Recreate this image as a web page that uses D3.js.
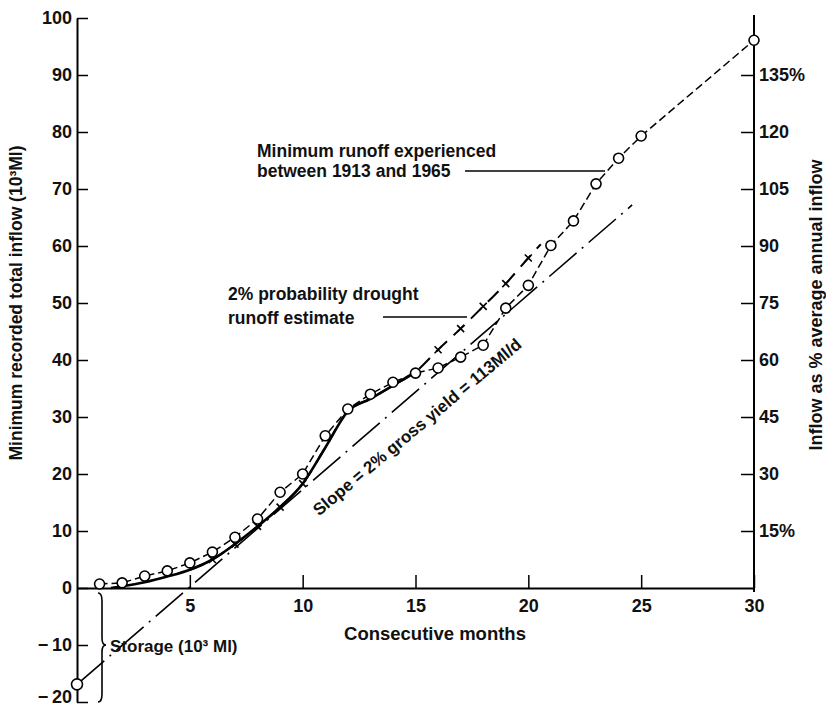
<!DOCTYPE html>
<html><head><meta charset="utf-8">
<script src="https://cdn.jsdelivr.net/npm/d3@7"></script>
<style>
body{margin:0;background:#fff}
svg{display:block}
text{font-family:"Liberation Sans",Arial,Helvetica,sans-serif;fill:#111}
</style>
</head><body>
<svg id="c" width="826" height="708"></svg>
<script>
// ---- data ----
const runoffMonths = [1,2,3,4,5,6,7,8,9,10,11,12,13,14,15,16,17,18,19,20,21,22,23,24,25,30];
const runoffValues = [0.7,0.9,2.1,3.0,4.4,6.3,8.9,12.1,16.8,20.0,26.7,31.4,34.0,36.1,37.7,38.6,40.5,42.6,49.1,53.1,60.1,64.4,70.9,75.4,79.3,96.1];

const estimateMonths = [1.5,2,3,4,5,6,7,8,9,10,11,12,13,14,15];
const estimateValues = [0,0.3,1.0,2.0,3.2,5.0,7.7,10.8,14.2,18.3,24.6,31.0,33.2,35.5,37.9];

const droughtMonths = [5,6,7,8,9,10,11,12,13,14,15,16,17,18,19,20,20.55];
const droughtValues = [3.2,5.0,7.7,10.8,14.2,18.3,24.6,31.0,33.2,35.5,37.9,41.8,45.5,49.4,53.4,57.9,60.3];
const droughtMarkerMonths = [6,7,8,9,10,16,17,18,19,20];

const slopeMonths = [0,24.6];
const slopeValues = [-16.9,67.2];

const xTicks = [5,10,15,20,25,30];
const yTicksLeft = [-20,-10,0,10,20,30,40,50,60,70,80,90,100];
const yTicksRight = [15,30,45,60,75,90,105,120,135];

// ---- drawing ----
const svg = d3.select("#c");
const x = d3.scaleLinear().domain([0,30]).range([77,754]);
const y = d3.scaleLinear().domain([-20,100]).range([702,18]);
const yR = d3.scaleLinear().domain([-30,150]).range([702,18]);

const tickFont = g => g.selectAll("text").style("font-size","18px").style("font-weight","bold");

// left axis
const gL = svg.append("g").attr("transform",`translate(${x(0)},0)`)
  .call(d3.axisLeft(y).tickValues(yTicksLeft).tickSize(-11).tickSizeOuter(0).tickPadding(5)
    .tickFormat(d => d < 0 ? "\u2212\u2009" + Math.abs(d) : d));
gL.call(tickFont);
gL.selectAll(".tick text").filter(d => d === -20).attr("dy","0.02em");
gL.select(".domain").attr("stroke-width",2);
gL.selectAll(".tick line").attr("stroke-width",1.5);

// bottom axis
const gB = svg.append("g").attr("transform",`translate(0,${y(0)})`)
  .call(d3.axisBottom(x).tickValues(xTicks).tickSize(-13).tickSizeOuter(0).tickPadding(11));
gB.call(tickFont);
gB.select(".domain").attr("stroke-width",2);
gB.selectAll(".tick line").attr("stroke-width",1.5);

// right axis
const gR = svg.append("g").attr("transform",`translate(${x(30)},0)`)
  .call(d3.axisRight(yR).tickValues(yTicksRight).tickSize(-13).tickSizeOuter(0).tickPadding(5)
    .tickFormat(d => (d === 15 || d === 135) ? d + "%" : d));
gR.call(tickFont);
gR.select(".domain").remove();
gR.selectAll(".tick line").attr("stroke-width",1.5);
svg.append("line").attr("x1",x(30)).attr("x2",x(30))
  .attr("y1",y(0)+4).attr("y2",y(100)-3).attr("stroke","#000").attr("stroke-width",2);

// axis titles
svg.append("text").attr("transform","translate(22,303) rotate(-90)")
  .attr("text-anchor","middle").style("font-size","17.5px").style("font-weight","bold")
  .text("Minimum recorded total inflow (10\u00b3Ml)");
svg.append("text").attr("transform","translate(822,305) rotate(-90)")
  .attr("text-anchor","middle").style("font-size","18px").style("font-weight","bold")
  .text("Inflow as % average annual inflow");
svg.append("text").attr("x",435).attr("y",640)
  .attr("text-anchor","middle").style("font-size","18.5px").style("font-weight","bold")
  .text("Consecutive months");

const line = d3.line().x(d => x(d[0])).y(d => y(d[1]));

// slope line (dash-dot)
svg.append("path").datum(d3.zip(slopeMonths, slopeValues)).attr("d", line)
  .attr("fill","none").attr("stroke","#000").attr("stroke-width",1.6)
  .attr("stroke-dasharray","36,7,2,7");

// thick solid estimate
svg.append("path").datum(d3.zip(estimateMonths, estimateValues))
  .attr("d", d3.line().x(d => x(d[0])).y(d => y(d[1])).curve(d3.curveMonotoneX))
  .attr("fill","none").attr("stroke","#000").attr("stroke-width",2.6);

// drought estimate dashed with x markers
svg.append("path").datum(d3.zip(droughtMonths, droughtValues))
  .attr("d", d3.line().x(d => x(d[0])).y(d => y(d[1])).curve(d3.curveMonotoneX))
  .attr("fill","none").attr("stroke","#000").attr("stroke-width",2)
  .attr("stroke-dasharray","15,9");
const mk = svg.append("g");
droughtMarkerMonths.forEach(m => {
  const v = droughtValues[droughtMonths.indexOf(m)];
  const cx = x(m), cy = y(v), s = 3.5;
  mk.append("path").attr("d",`M${cx-s},${cy-s}L${cx+s},${cy+s}M${cx-s},${cy+s}L${cx+s},${cy-s}`)
    .attr("stroke","#000").attr("stroke-width",1.6);
});

// minimum runoff dashed line with circles
const runoff = d3.zip(runoffMonths, runoffValues);
svg.append("path").datum(runoff).attr("d", line)
  .attr("fill","none").attr("stroke","#000").attr("stroke-width",1.5)
  .attr("stroke-dasharray","8,4");
svg.append("g").selectAll("circle").data(runoff).join("circle")
  .attr("cx", d => x(d[0])).attr("cy", d => y(d[1])).attr("r",5)
  .attr("fill","#fff").attr("stroke","#000").attr("stroke-width",1.6);

// storage point
svg.append("circle").attr("cx", x(slopeMonths[0])).attr("cy", y(slopeValues[0])).attr("r",5.5)
  .attr("fill","#fff").attr("stroke","#000").attr("stroke-width",1.6);

// storage brace
const bx = 98, bt = y(0)+5, bb = y(-20), bm = y(-10);
svg.append("path")
  .attr("d",`M${bx},${bt} Q${bx+4},${bt} ${bx+4},${bt+8} L${bx+4},${bm-7} Q${bx+4},${bm} ${bx+8},${bm} Q${bx+4},${bm} ${bx+4},${bm+7} L${bx+4},${bb-8} Q${bx+4},${bb} ${bx},${bb}`)
  .attr("fill","none").attr("stroke","#000").attr("stroke-width",1.6);
svg.append("text").attr("x",110).attr("y",652).style("font-size","17px").style("font-weight","bold")
  .text("Storage (10\u00b3 Ml)");

// annotations
const ann = (tx, ty, lines, lh) => {
  const t = svg.append("text").attr("x",tx).attr("y",ty).style("font-size","17.5px").style("font-weight","bold");
  lines.forEach((s,i) => t.append("tspan").attr("x",tx).attr("dy", i ? lh : 0).text(s));
};
ann(257,157,["Minimum runoff experienced","between 1913 and 1965"],20);
svg.append("line").attr("x1",465).attr("x2",605).attr("y1",171).attr("y2",171)
  .attr("stroke","#000").attr("stroke-width",1.3);
ann(228,300,["2% probability drought","runoff estimate"],24);
svg.append("line").attr("x1",383).attr("x2",467).attr("y1",317).attr("y2",317)
  .attr("stroke","#000").attr("stroke-width",1.3);

const ang = Math.atan2(y(slopeValues[1]) - y(slopeValues[0]), x(slopeMonths[1]) - x(slopeMonths[0])) * 180 / Math.PI;
svg.append("text").attr("transform",`translate(418,428) rotate(${ang+1})`)
  .attr("text-anchor","middle").attr("dominant-baseline","middle")
  .style("font-size","17px").style("font-weight","bold")
  .text("Slope = 2% gross yield = 113Ml/d");
</script>
</body></html>
